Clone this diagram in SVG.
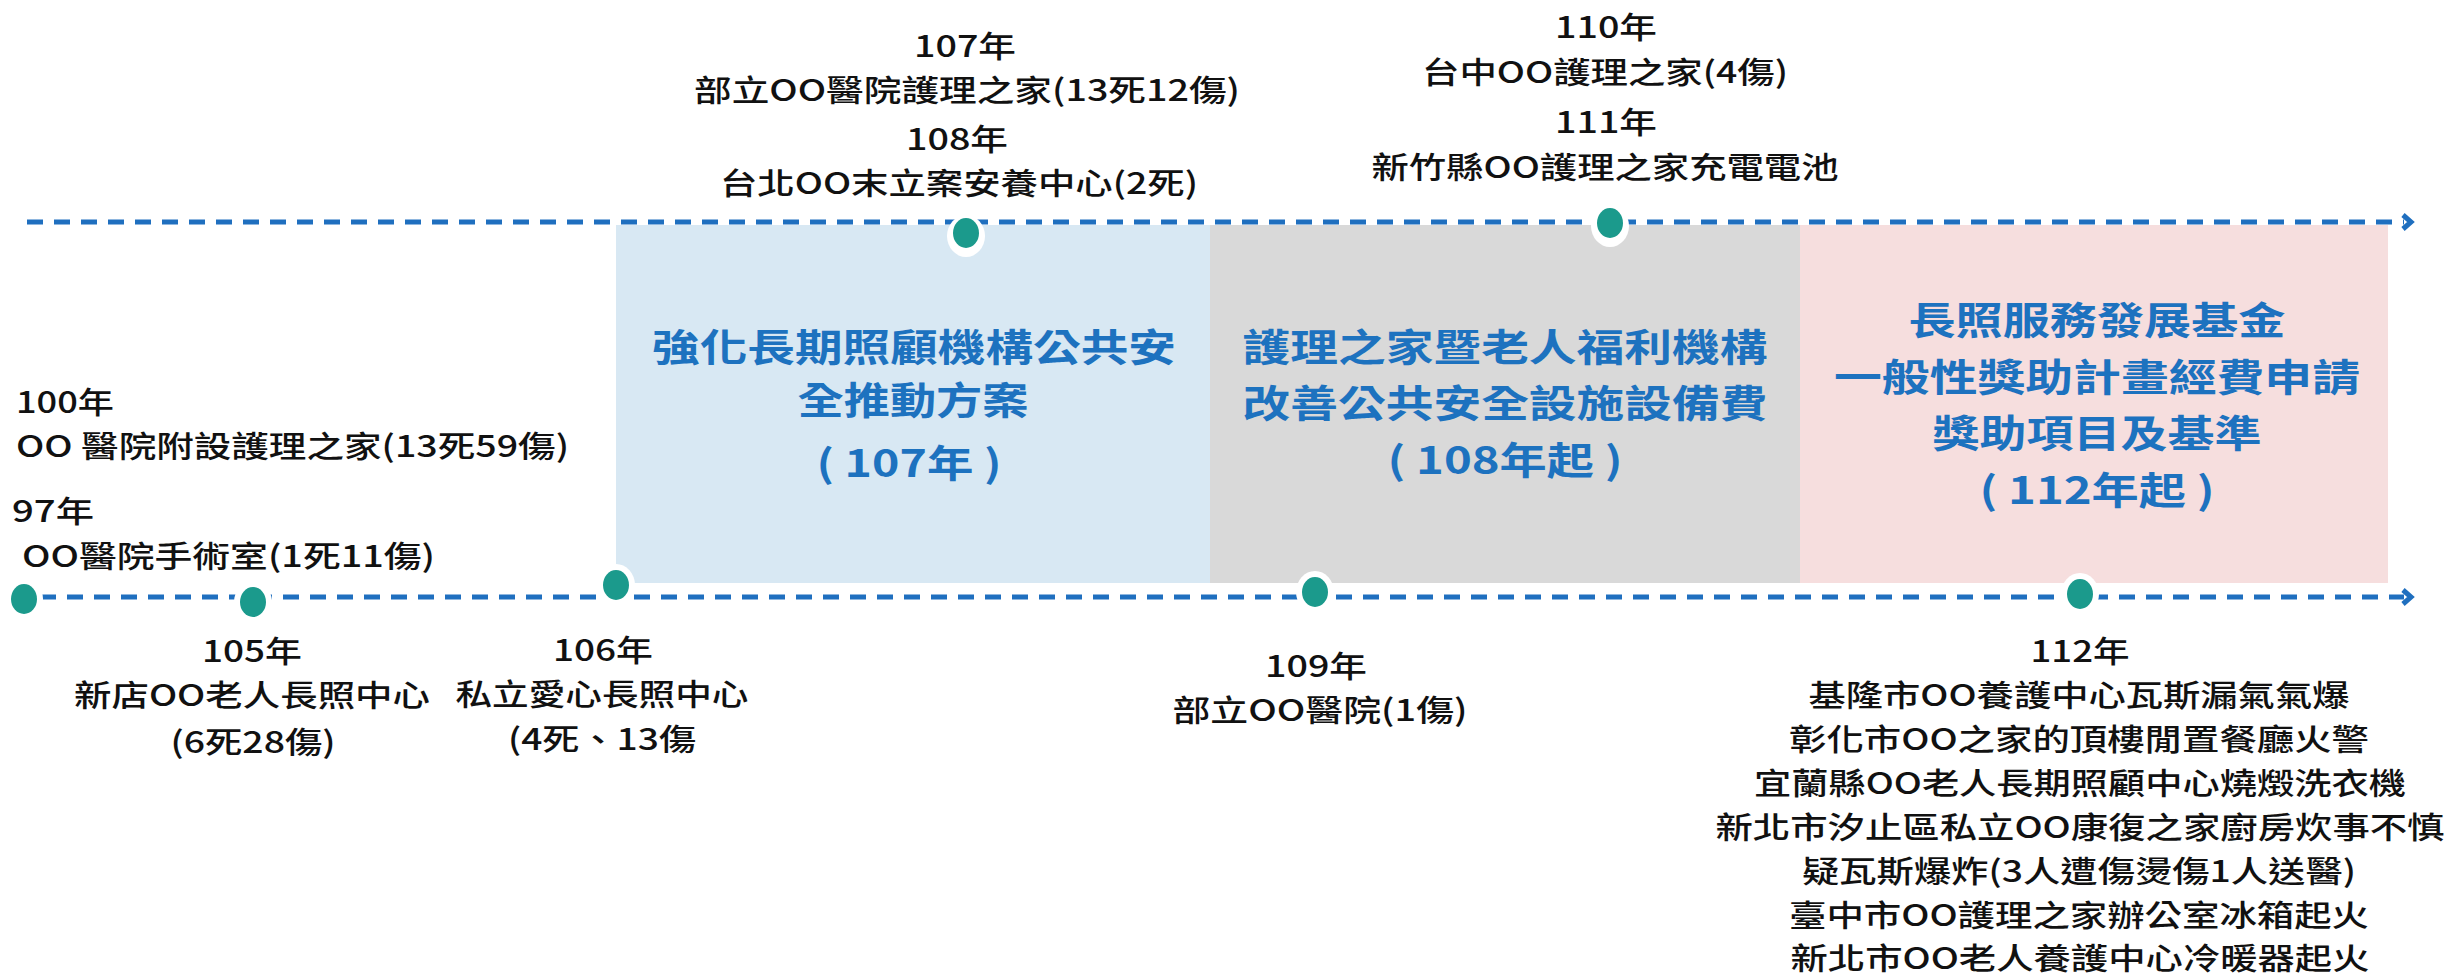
<svg xmlns="http://www.w3.org/2000/svg" width="2460" height="978" viewBox="0 0 2460 978">
<defs>
<style>
.t{font-family:"Noto Sans CJK TC","Noto Sans CJK SC",sans-serif;font-size:30px;font-weight:500;fill:#111;text-anchor:middle}
.l{text-anchor:start}
.h{font-family:"Noto Sans CJK TC","Noto Sans CJK SC",sans-serif;font-size:38px;font-weight:bold;fill:#1d72bf;text-anchor:middle}
.ln{stroke:#1f6fbf;stroke-width:5;stroke-dasharray:16 11;fill:none}
.ar{stroke:#1f6fbf;stroke-width:5;fill:none;stroke-linejoin:miter}
.halo{fill:#fff}
.dot{fill:#1b9a8c}
</style>
</defs>
<rect width="2460" height="978" fill="#fff"/>
<g id="box-blue">
<rect x="616" y="225" width="594" height="358" fill="#d8e8f3"/>
<text class="h" x="914" y="361" textLength="524" lengthAdjust="spacingAndGlyphs">強化長期照顧機構公共安</text>
<text class="h" x="913" y="414" textLength="231" lengthAdjust="spacingAndGlyphs">全推動方案</text>
<text class="h" x="909" y="477" textLength="185" lengthAdjust="spacingAndGlyphs">( 107年 )</text>
</g>
<g id="box-gray">
<rect x="1210" y="225" width="590" height="358" fill="#d9d9d9"/>
<text class="h" x="1505" y="361" textLength="525" lengthAdjust="spacingAndGlyphs">護理之家暨老人福利機構</text>
<text class="h" x="1505" y="417" textLength="525" lengthAdjust="spacingAndGlyphs">改善公共安全設施設備費</text>
<text class="h" x="1505" y="474" textLength="235" lengthAdjust="spacingAndGlyphs">( 108年起 )</text>
</g>
<g id="box-pink">
<rect x="1800" y="225" width="588" height="358" fill="#f6dede"/>
<text class="h" x="2097" y="334" textLength="377" lengthAdjust="spacingAndGlyphs">長照服務發展基金</text>
<text class="h" x="2097" y="391" textLength="526" lengthAdjust="spacingAndGlyphs">一般性獎助計畫經費申請</text>
<text class="h" x="2097" y="447" textLength="329" lengthAdjust="spacingAndGlyphs">獎助項目及基準</text>
<text class="h" x="2097" y="504" textLength="235" lengthAdjust="spacingAndGlyphs">( 112年起 )</text>
</g>
<g id="connectors">
<line class="ln" x1="27" y1="222" x2="2404" y2="222"/>
<polyline class="ar" points="2403,215 2411,222 2403,229"/>
<line class="ln" x1="40" y1="597" x2="2404" y2="597"/>
<polyline class="ar" points="2403,590 2411,597 2403,604"/>
</g>
<g id="dot-97">
<ellipse class="halo" cx="24" cy="599" rx="19" ry="21"/><ellipse class="dot" cx="24" cy="599" rx="13" ry="15"/>
</g>
<g id="dot-105">
<ellipse class="halo" cx="253" cy="602" rx="19" ry="21"/><ellipse class="dot" cx="253" cy="602" rx="13" ry="15"/>
</g>
<g id="dot-106">
<ellipse class="halo" cx="616" cy="585" rx="19" ry="21"/><ellipse class="dot" cx="616" cy="585" rx="13" ry="15"/>
</g>
<g id="dot-109">
<ellipse class="halo" cx="1315" cy="592" rx="19" ry="21"/><ellipse class="dot" cx="1315" cy="592" rx="13" ry="15"/>
</g>
<g id="dot-112">
<ellipse class="halo" cx="2080" cy="594" rx="19" ry="21"/><ellipse class="dot" cx="2080" cy="594" rx="13" ry="15"/>
</g>
<g id="dot-107">
<ellipse class="halo" cx="966" cy="236" rx="19" ry="21"/><ellipse class="dot" cx="966" cy="233" rx="13" ry="15"/>
</g>
<g id="dot-110">
<ellipse class="halo" cx="1610" cy="226" rx="19" ry="21"/><ellipse class="dot" cx="1610" cy="223" rx="13" ry="15"/>
</g>
<g id="label-107-108">
<text class="t" x="965" y="57" textLength="102" lengthAdjust="spacingAndGlyphs">107年</text>
<text class="t" x="967" y="101" textLength="546" lengthAdjust="spacingAndGlyphs">部立OO醫院護理之家(13死12傷)</text>
<text class="t" x="957" y="150" textLength="102" lengthAdjust="spacingAndGlyphs">108年</text>
<text class="t" x="959" y="194" textLength="478" lengthAdjust="spacingAndGlyphs">台北OO末立案安養中心(2死)</text>
</g>
<g id="label-110-111">
<text class="t" x="1606" y="38" textLength="102" lengthAdjust="spacingAndGlyphs">110年</text>
<text class="t" x="1605" y="83" textLength="366" lengthAdjust="spacingAndGlyphs">台中OO護理之家(4傷)</text>
<text class="t" x="1606" y="133" textLength="102" lengthAdjust="spacingAndGlyphs">111年</text>
<text class="t" x="1605" y="178" textLength="467" lengthAdjust="spacingAndGlyphs">新竹縣OO護理之家充電電池</text>
</g>
<g id="label-100">
<text class="t l" x="16" y="413" textLength="98" lengthAdjust="spacingAndGlyphs">100年</text>
<text class="t l" x="16" y="457" textLength="553" lengthAdjust="spacingAndGlyphs">OO 醫院附設護理之家(13死59傷)</text>
</g>
<g id="label-97">
<text class="t l" x="12" y="522" textLength="82" lengthAdjust="spacingAndGlyphs">97年</text>
<text class="t l" x="22" y="567" textLength="413" lengthAdjust="spacingAndGlyphs">OO醫院手術室(1死11傷)</text>
</g>
<g id="label-105">
<text class="t" x="252" y="662" textLength="100" lengthAdjust="spacingAndGlyphs">105年</text>
<text class="t" x="252" y="706" textLength="356" lengthAdjust="spacingAndGlyphs">新店OO老人長照中心</text>
<text class="t" x="253" y="753" textLength="165" lengthAdjust="spacingAndGlyphs">(6死28傷)</text>
</g>
<g id="label-106">
<text class="t" x="603" y="661" textLength="100" lengthAdjust="spacingAndGlyphs">106年</text>
<text class="t" x="602" y="705" textLength="293" lengthAdjust="spacingAndGlyphs">私立愛心長照中心</text>
<text class="t" x="602" y="750" textLength="188" lengthAdjust="spacingAndGlyphs">(4死、13傷</text>
</g>
<g id="label-109">
<text class="t" x="1316" y="677" textLength="102" lengthAdjust="spacingAndGlyphs">109年</text>
<text class="t" x="1320" y="721" textLength="295" lengthAdjust="spacingAndGlyphs">部立OO醫院(1傷)</text>
</g>
<g id="label-112">
<text class="t" x="2080" y="662" textLength="99" lengthAdjust="spacingAndGlyphs">112年</text>
<text class="t" x="2079" y="706" textLength="541" lengthAdjust="spacingAndGlyphs">基隆市OO養護中心瓦斯漏氣氣爆</text>
<text class="t" x="2079" y="750" textLength="580" lengthAdjust="spacingAndGlyphs">彰化市OO之家的頂樓閒置餐廳火警</text>
<text class="t" x="2080" y="794" textLength="652" lengthAdjust="spacingAndGlyphs">宜蘭縣OO老人長期照顧中心燒燬洗衣機</text>
<text class="t" x="2080" y="838" textLength="729" lengthAdjust="spacingAndGlyphs">新北市汐止區私立OO康復之家廚房炊事不慎</text>
<text class="t" x="2079" y="882" textLength="554" lengthAdjust="spacingAndGlyphs">疑瓦斯爆炸(3人遭傷燙傷1人送醫)</text>
<text class="t" x="2079" y="926" textLength="580" lengthAdjust="spacingAndGlyphs">臺中市OO護理之家辦公室冰箱起火</text>
<text class="t" x="2080" y="969" textLength="579" lengthAdjust="spacingAndGlyphs">新北市OO老人養護中心冷暖器起火</text>
</g>
</svg>
